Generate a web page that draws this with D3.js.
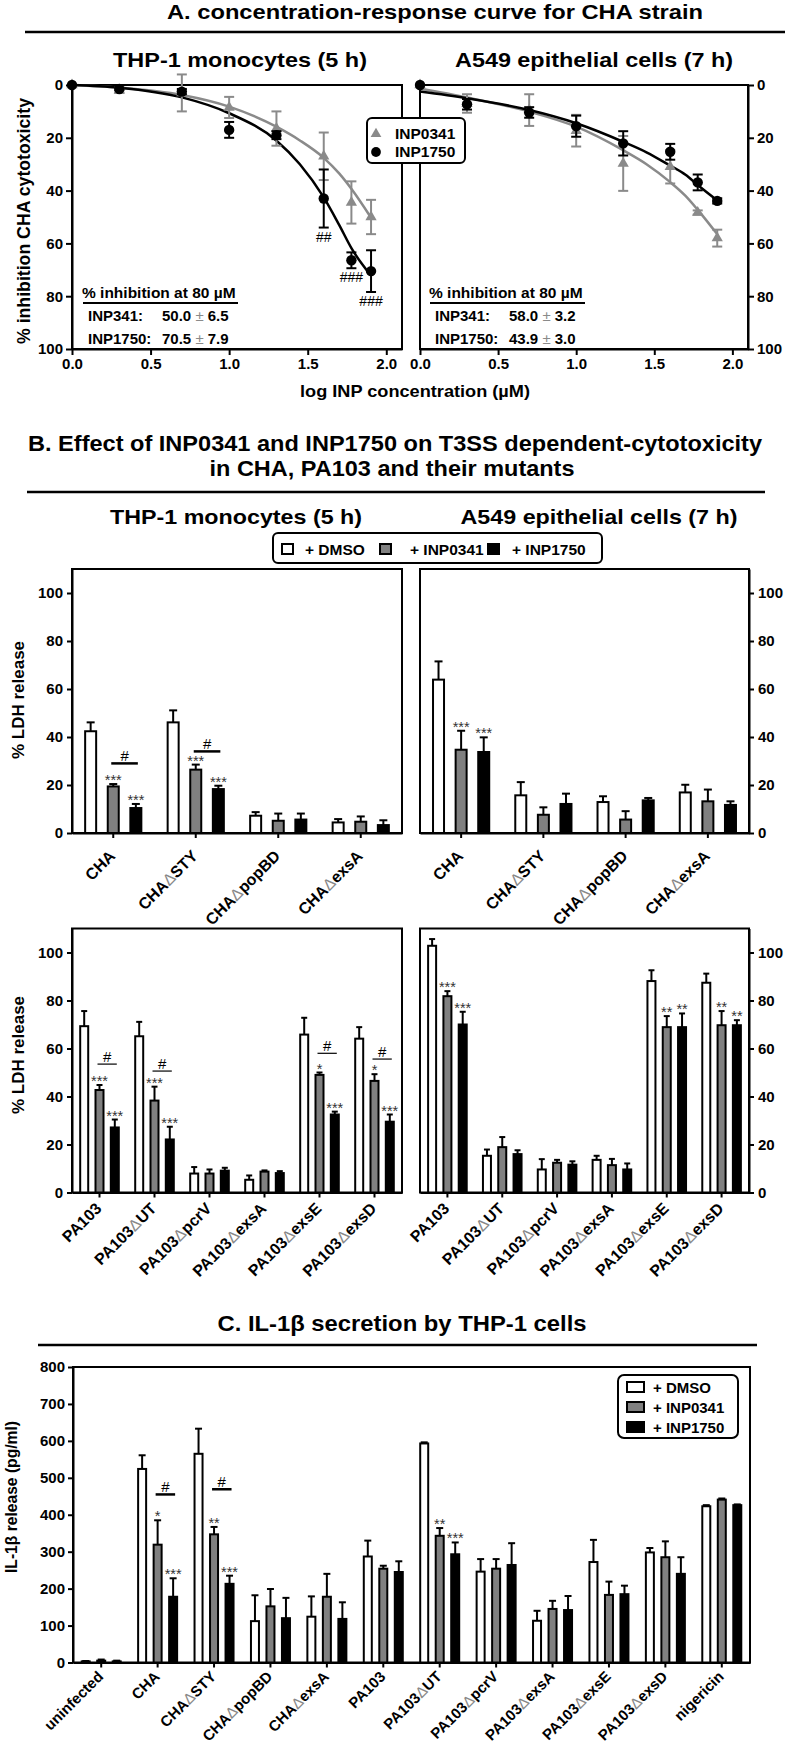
<!DOCTYPE html>
<html><head><meta charset="utf-8">
<script src="https://cdn.jsdelivr.net/npm/d3@7"></script>
<style>
body{margin:0;background:#fff;}
svg{display:block;font-family:"Liberation Sans",Arial,Helvetica,sans-serif;font-weight:bold;}
</style></head><body>
<svg id="chart" width="785" height="1750"></svg>
<script>
// ================= DATA =================
// Panel A : concentration-response
const logConc = [0, 0.301, 0.699, 1.0, 1.301, 1.602, 1.778, 1.903];
const thpInp0341 = [0, 2, 3, 8.5, 16.5, 27, 44.5, 50.0];
const thpInp0341Err = [0, 1, 7, 4, 6.5, 9, 8, 6.5];
const thpInp1750 = [0, 1.5, 2.5, 17, 19, 43, 66.4, 70.5];
const thpInp1750Err = [0, 0.5, 1, 3, 1.5, 11, 3, 7.9];
const thpInp1750Sig = ["", "", "", "", "", "##", "###", "###"];
const a549Inp0341 = [0, 7, 9.5, 17.3, 29.7, 31, 48.3, 58.0];
const a549Inp0341Err = [0, 3.5, 6, 6, 10.4, 6.3, 0.8, 3.2];
const a549Inp1750 = [0, 7.3, 10.4, 15.6, 22.1, 25.3, 36.9, 43.9];
const a549Inp1750Err = [0, 2, 2, 4, 4.6, 3, 3, 1.0];
// fitted curves
const fitX = [0, 0.3, 0.7, 1.0, 1.3, 1.45, 1.6, 1.7, 1.78, 1.9];
const thpFit0341 = [0, 1, 3.8, 8.2, 15.8, 21, 27.5, 33.5, 39.5, 50];
const thpFit1750 = [0, 1, 4.7, 10.7, 21, 30, 42.4, 53, 62, 72];
const a549Fit0341 = [1.3, 4.7, 10.1, 15.8, 24.7, 30, 36.7, 42, 47.4, 56.3];
const a549Fit1750 = [2.5, 5, 9.5, 14.5, 21.5, 25.5, 30.5, 34, 38, 43.6];
const aYTicks = [0, 20, 40, 60, 80, 100];
const aXTicks = [0, 0.5, 1, 1.5, 2];

// Panel B : LDH release
const seriesNames = ["+ DMSO", "+ INP0341", "+ INP1750"];
const chaCats = ["CHA", "CHAΔSTY", "CHAΔpopBD", "CHAΔexsA"];
const thpChaDmso = [42.4, 46.1, 7.2, 4.4];
const thpChaDmsoErr = [3.7, 5, 1.5, 1.4];
const thpCha0341 = [19.4, 26.4, 5.1, 4.7];
const thpCha0341Err = [1, 2.1, 3, 2.2];
const thpCha1750 = [10.4, 18.3, 5.6, 3.3];
const thpCha1750Err = [1.7, 1.4, 2.5, 2];
const thpChaStars0341 = ["***", "***", "", ""];
const thpChaStars1750 = ["***", "***", "", ""];
const thpChaHash = [29, 34, null, null];

const a549ChaDmso = [63.9, 15.7, 12.9, 16.9];
const a549ChaDmsoErr = [7.6, 5.5, 2.4, 3.2];
const a549Cha0341 = [34.7, 7.6, 5.6, 13.2];
const a549Cha0341Err = [7.9, 3.1, 3.5, 4.9];
const a549Cha1750 = [33.75, 12.1, 13.6, 11.7];
const a549Cha1750Err = [6.1, 4.3, 1, 1.5];
const a549ChaStars0341 = ["***", "", "", ""];
const a549ChaStars1750 = ["***", "", "", ""];
const a549ChaHash = [null, null, null, null];

const paCats = ["PA103", "PA103ΔUT", "PA103ΔpcrV", "PA103ΔexsA", "PA103ΔexsE", "PA103ΔexsD"];
const thpPaDmso = [69.3, 65.1, 7.9, 5.3, 65.8, 64.1];
const thpPaDmsoErr = [6.3, 6, 2.7, 1.8, 7, 4.8];
const thpPa0341 = [42.7, 38.3, 7.9, 8.7, 49, 46.5];
const thpPa0341Err = [2.1, 5.8, 1.7, 0.5, 1, 2.8];
const thpPa1750 = [27.1, 22.1, 9.1, 8.1, 32.5, 29.5];
const thpPa1750Err = [3.3, 5.3, 1.2, 0.8, 1.2, 3];
const thpPaStars0341 = ["***", "***", "", "", "*", "*"];
const thpPaStars1750 = ["***", "***", "", "", "***", "***"];
const thpPaHash = [53.5, 50.6, null, null, 58, 55.6];

const a549PaDmso = [102.8, 15.3, 9.6, 13.6, 88.1, 87.4];
const a549PaDmsoErr = [2.8, 2.6, 4.3, 1.7, 4.5, 3.8];
const a549Pa0341 = [81.8, 18.9, 12.4, 11.4, 68.9, 69.7];
const a549Pa0341Err = [2.1, 4.2, 1.2, 2.6, 4.6, 5.9];
const a549Pa1750 = [70, 16, 11.6, 9.6, 68.9, 69.7];
const a549Pa1750Err = [5.3, 1.6, 1.4, 2.5, 5.7, 2.1];
const a549PaStars0341 = ["***", "", "", "", "**", "**"];
const a549PaStars1750 = ["***", "", "", "", "**", "**"];
const a549PaHash = [null, null, null, null, null, null];
const bYTicks = [0, 20, 40, 60, 80, 100];

// Panel C : IL-1beta
const ilCats = ["uninfected", "CHA", "CHAΔSTY", "CHAΔpopBD", "CHAΔexsA", "PA103", "PA103ΔUT", "PA103ΔpcrV", "PA103ΔexsA", "PA103ΔexsE", "PA103ΔexsD", "nigericin"];
const ilDmso = [3, 524, 565, 112, 124, 287, 593, 246, 113, 272, 298, 423];
const ilDmsoErr = [1, 37, 68, 70, 55, 43, 3, 34, 27, 60, 12, 3];
const il0341 = [5, 319, 347, 152, 178, 254, 343, 254, 145, 183, 285, 441];
const il0341Err = [3, 66, 20, 47, 62, 8, 21, 26, 22, 36, 43, 3];
const il1750 = [3, 178, 213, 120, 118, 245, 293, 264, 142, 185, 240, 426];
const il1750Err = [2, 50, 22, 55, 45, 29, 32, 59, 38, 23, 45, 2];
const ilStars0341 = ["", "*", "**", "", "", "", "**", "", "", "", "", ""];
const ilStars1750 = ["", "***", "***", "", "", "", "***", "", "", "", "", ""];
const ilHash = [null, 455, 469, null, null, null, null, null, null, null, null, null];
const cYTicks = [0, 100, 200, 300, 400, 500, 600, 700, 800];

// ================= STYLE / LAYOUT =================
const GRAY = "#8a8a8a";
const seriesFill = ["#ffffff", "#808080", "#000000"];
const svg = d3.select("#chart");

function styleAxis(g, fs) {
  g.attr("font-family", null).attr("font-size", null);
  g.select(".domain").attr("stroke-width", 2);
  g.selectAll(".tick line").attr("stroke-width", 2);
  g.selectAll(".tick text").attr("font-size", fs).attr("font-weight", "bold").attr("fill", "#000");
}
function title(x, y, s, fs, len) {
  const t = svg.append("text").attr("x", x).attr("y", y).attr("text-anchor", "middle")
    .attr("font-size", fs).text(s);
  if (len) t.attr("textLength", len).attr("lengthAdjust", "spacingAndGlyphs");
  return t;
}
function rule(x1, x2, y) {
  svg.append("line").attr("x1", x1).attr("x2", x2).attr("y1", y).attr("y2", y)
    .attr("stroke", "#000").attr("stroke-width", 2.5);
}
function yLabel(x, y, s, fs, len) {
  const t = svg.append("text").attr("transform", `translate(${x},${y}) rotate(-90)`)
    .attr("text-anchor", "middle").attr("font-size", fs).text(s);
  if (len) t.attr("textLength", len).attr("lengthAdjust", "spacingAndGlyphs");
}

// ================= PANEL A =================
const A_TOP = 85, A_BOT = 349;
rule(25, 785, 32);
title(435, 19, "A. concentration-response curve for CHA strain", 21, 536);
title(240, 67, "THP-1 monocytes (5 h)", 21, 254);
title(594, 67, "A549 epithelial cells (7 h)", 21, 278);

function curvePanel(o) {
  const g = svg.append("g");
  const x = d3.scaleLinear().domain([0, 2.1]).range([o.x0, o.x1]);
  const y = d3.scaleLinear().domain([0, 100]).range([A_TOP, A_BOT]);
  g.append("rect").attr("x", o.x0).attr("y", A_TOP).attr("width", o.x1 - o.x0)
    .attr("height", A_BOT - A_TOP).attr("fill", "none").attr("stroke", "#000").attr("stroke-width", 2);
  g.append("g").attr("transform", `translate(0,${A_BOT})`)
    .call(d3.axisBottom(x).tickValues(aXTicks).tickFormat(d3.format(".1f")).tickSize(6).tickSizeOuter(0).tickPadding(3))
    .call(styleAxis, 15);
  const ya = (o.side === "left" ? d3.axisLeft(y) : d3.axisRight(y))
    .tickValues(aYTicks).tickSize(6).tickSizeOuter(0).tickPadding(3);
  g.append("g").attr("transform", `translate(${o.side === "left" ? o.x0 : o.x1},0)`).call(ya).call(styleAxis, 15);

  const line = d3.line().x((d, i) => x(fitX[i])).y(d => y(d)).curve(d3.curveMonotoneX);
  g.append("path").datum(o.fitGray).attr("d", line).attr("fill", "none").attr("stroke", GRAY).attr("stroke-width", 2.5);
  g.append("path").datum(o.fitBlack).attr("d", line).attr("fill", "none").attr("stroke", "#000").attr("stroke-width", 2.5);

  function pts(vals, errs, color, sym, size) {
    vals.forEach((v, i) => {
      const e = errs[i], px = x(logConc[i]);
      if (e > 0) {
        g.append("line").attr("x1", px).attr("x2", px).attr("y1", y(v - e)).attr("y2", y(v + e))
          .attr("stroke", color).attr("stroke-width", 2);
        [v - e, v + e].forEach(c => g.append("line").attr("x1", px - 5).attr("x2", px + 5)
          .attr("y1", y(c)).attr("y2", y(c)).attr("stroke", color).attr("stroke-width", 2));
      }
      g.append("path").attr("d", d3.symbol().type(sym).size(size)())
        .attr("transform", `translate(${px},${y(v)})`).attr("fill", color);
    });
  }
  pts(o.gray, o.grayErr, GRAY, d3.symbolTriangle, 55);
  pts(o.black, o.blackErr, "#000", d3.symbolCircle, 85);
  if (o.sig) o.sig.forEach((s, i) => {
    if (!s) return;
    g.append("text").attr("x", x(logConc[i])).attr("y", y(o.black[i] + o.blackErr[i]) + 14)
      .attr("text-anchor", "middle").attr("font-size", 14).attr("font-weight", "normal").text(s);
  });
  // inset
  const ix = o.x0 + o.insetDx;
  g.append("text").attr("x", ix).attr("y", 298).attr("font-size", 15.5).text("% inhibition at 80 µM");
  g.append("line").attr("x1", ix + 1).attr("x2", ix + 156).attr("y1", 303).attr("y2", 303)
    .attr("stroke", "#000").attr("stroke-width", 2);
  o.inset.forEach((r, k) => {
    const yy = 321 + k * 23;
    g.append("text").attr("x", ix + 6).attr("y", yy).attr("font-size", 15).text(r[0]);
    const t = g.append("text").attr("x", ix + 80).attr("y", yy).attr("font-size", 15);
    t.append("tspan").text(r[1] + " ");
    t.append("tspan").attr("fill", GRAY).attr("font-weight", "normal").text("±");
    t.append("tspan").text(" " + r[2]);
  });
}
curvePanel({ x0: 72, x1: 402, side: "left", fitGray: thpFit0341, fitBlack: thpFit1750,
  gray: thpInp0341, grayErr: thpInp0341Err, black: thpInp1750, blackErr: thpInp1750Err,
  sig: thpInp1750Sig, insetDx: 10,
  inset: [["INP341:", "50.0", "6.5"], ["INP1750:", "70.5", "7.9"]] });
curvePanel({ x0: 420, x1: 748, side: "right", fitGray: a549Fit0341, fitBlack: a549Fit1750,
  gray: a549Inp0341, grayErr: a549Inp0341Err, black: a549Inp1750, blackErr: a549Inp1750Err,
  sig: null, insetDx: 9,
  inset: [["INP341:", "58.0", "3.2"], ["INP1750:", "43.9", "3.0"]] });
yLabel(30, 221, "% inhibition CHA cytotoxicity", 17.5, 246);
title(415, 397, "log INP concentration (µM)", 17, 230);
// legend A
(function () {
  const g = svg.append("g");
  g.append("rect").attr("x", 367).attr("y", 118).attr("width", 98).attr("height", 45).attr("rx", 5)
    .attr("fill", "#fff").attr("stroke", "#000").attr("stroke-width", 2);
  g.append("path").attr("d", d3.symbol().type(d3.symbolTriangle).size(50)()).attr("transform", "translate(376,134)").attr("fill", GRAY);
  g.append("path").attr("d", d3.symbol().type(d3.symbolCircle).size(75)()).attr("transform", "translate(376,152)").attr("fill", "#000");
  g.append("text").attr("x", 395).attr("y", 139).attr("font-size", 15.5).text("INP0341");
  g.append("text").attr("x", 395).attr("y", 157).attr("font-size", 15.5).text("INP1750");
})();

// ================= PANEL B / C bar builder =================
function catLabel(g, x, y, label, fs) {
  const t = g.append("text").attr("transform", `translate(${x},${y}) rotate(-45)`)
    .attr("text-anchor", "end").attr("font-size", fs);
  const parts = label.split("Δ");
  t.append("tspan").text(parts[0]);
  if (parts.length > 1) {
    t.append("tspan").attr("fill", "#888").attr("font-weight", "normal").text("Δ");
    t.append("tspan").text(parts[1]);
  }
}
function barPanel(o) {
  const g = svg.append("g");
  const x = d3.scaleBand().domain(o.cats).range([o.x0, o.x1]).paddingInner(0).paddingOuter(0);
  const y = d3.scaleLinear().domain([0, o.ymax]).range([o.yBot, o.yTop]);
  const xi = d3.scaleBand().domain(seriesNames).range([-(o.step + o.w / 2), o.step + o.w / 2])
    .paddingInner(1 - o.w / o.step).paddingOuter(0);
  const cx = c => x(c) + x.bandwidth() / 2;
  g.append("rect").attr("x", o.x0).attr("y", o.yTop).attr("width", o.x1 - o.x0)
    .attr("height", o.yBot - o.yTop).attr("fill", "none").attr("stroke", "#000").attr("stroke-width", 2);
  const ya = (o.side === "left" ? d3.axisLeft(y) : d3.axisRight(y))
    .tickValues(o.yTicks).tickSize(o.tick).tickSizeOuter(0).tickPadding(o.pad);
  g.append("g").attr("transform", `translate(${o.side === "left" ? o.x0 : o.x1},0)`).call(ya).call(styleAxis, 15);
  g.append("g").attr("transform", `translate(0,${o.yBot})`)
    .call(d3.axisBottom(x).tickSize(5).tickSizeOuter(0).tickFormat("")).call(styleAxis, 15);

  const centers = [];
  o.series.forEach((s, si) => {
    const name = seriesNames[si];
    centers[si] = c => cx(c) + xi(name) + o.w / 2;
    o.cats.forEach((c, i) => {
      const v = s.v[i], e = s.e[i], bx = cx(c) + xi(name), mx = bx + o.w / 2;
      g.append("rect").attr("x", bx).attr("y", y(v)).attr("width", o.w).attr("height", o.yBot - y(v))
        .attr("fill", seriesFill[si]).attr("stroke", "#000").attr("stroke-width", 2);
      if (e > 0) {
        g.append("line").attr("x1", mx).attr("x2", mx).attr("y1", y(v)).attr("y2", y(v + e))
          .attr("stroke", "#000").attr("stroke-width", 2);
        g.append("line").attr("x1", mx - o.cap / 2).attr("x2", mx + o.cap / 2).attr("y1", y(v + e)).attr("y2", y(v + e))
          .attr("stroke", "#000").attr("stroke-width", 2);
      }
      if (s.stars && s.stars[i]) {
        g.append("text").attr("x", mx).attr("y", y(v + e) + 1).attr("text-anchor", "middle")
          .attr("font-size", 14.5).attr("font-weight", "normal").attr("fill", "#333").text(s.stars[i]);
      }
    });
  });
  if (o.hash) o.hash.forEach((h, i) => {
    if (h == null) return;
    const c = o.cats[i], a = centers[1](c) - 2, b = centers[2](c) + 2;
    g.append("line").attr("x1", a).attr("x2", b).attr("y1", y(h)).attr("y2", y(h))
      .attr("stroke", "#000").attr("stroke-width", o.hashW);
    g.append("text").attr("x", (a + b) / 2).attr("y", y(h) - 2.5).attr("text-anchor", "middle")
      .attr("font-size", 15).attr("font-weight", "normal").text("#");
  });
  o.cats.forEach(c => catLabel(g, cx(c) + 3, o.yBot + o.labB, c, o.lfs));
}
function ser(v, e, stars) { return { v: v, e: e, stars: stars }; }

// ================= PANEL B =================
title(395, 451, "B. Effect of INP0341 and INP1750 on T3SS dependent-cytotoxicity", 22, 734);
title(392, 476, "in CHA, PA103 and their mutants", 22, 365);
rule(27, 765, 492);
title(236, 524, "THP-1 monocytes (5 h)", 21, 252);
title(599, 524, "A549 epithelial cells (7 h)", 21, 277);
// legend B
(function () {
  const g = svg.append("g");
  g.append("rect").attr("x", 273).attr("y", 533).attr("width", 329).attr("height", 30).attr("rx", 5)
    .attr("fill", "#fff").attr("stroke", "#000").attr("stroke-width", 2);
  const sx = [282, 380, 488], tx = [305, 410, 512];
  seriesNames.forEach((n, i) => {
    g.append("rect").attr("x", sx[i]).attr("y", 544).attr("width", 11).attr("height", 10)
      .attr("fill", seriesFill[i]).attr("stroke", "#000").attr("stroke-width", 2);
    g.append("text").attr("x", tx[i]).attr("y", 555).attr("font-size", 15.5).text(n);
  });
})();

const upper = { ymax: 110, yBot: 833, yTop: 569, step: 22.6, w: 11, cap: 8, yTicks: bYTicks, tick: 5, pad: 4, labB: 24, lfs: 16, hashW: 2.5 };
const lower = { ymax: 110, yBot: 1192.5, yTop: 928.5, step: 15.3, w: 8, cap: 6, yTicks: bYTicks, tick: 5, pad: 4, labB: 17, lfs: 16, hashW: 1.2 };
barPanel(Object.assign({}, upper, { x0: 72, x1: 402, side: "left", cats: chaCats, hash: thpChaHash,
  series: [ser(thpChaDmso, thpChaDmsoErr), ser(thpCha0341, thpCha0341Err, thpChaStars0341), ser(thpCha1750, thpCha1750Err, thpChaStars1750)] }));
barPanel(Object.assign({}, upper, { x0: 420, x1: 749, side: "right", cats: chaCats, hash: a549ChaHash,
  series: [ser(a549ChaDmso, a549ChaDmsoErr), ser(a549Cha0341, a549Cha0341Err, a549ChaStars0341), ser(a549Cha1750, a549Cha1750Err, a549ChaStars1750)] }));
barPanel(Object.assign({}, lower, { x0: 72, x1: 402, side: "left", cats: paCats, hash: thpPaHash,
  series: [ser(thpPaDmso, thpPaDmsoErr), ser(thpPa0341, thpPa0341Err, thpPaStars0341), ser(thpPa1750, thpPa1750Err, thpPaStars1750)] }));
barPanel(Object.assign({}, lower, { x0: 420, x1: 749, side: "right", cats: paCats, hash: a549PaHash,
  series: [ser(a549PaDmso, a549PaDmsoErr), ser(a549Pa0341, a549Pa0341Err, a549PaStars0341), ser(a549Pa1750, a549Pa1750Err, a549PaStars1750)] }));
yLabel(24, 700, "% LDH release", 17);
yLabel(24, 1055, "% LDH release", 17);

// ================= PANEL C =================
title(402, 1331, "C. IL-1β secretion by THP-1 cells", 22, 369);
rule(38, 757, 1345);
barPanel({ ymax: 800, yBot: 1662.5, yTop: 1367, step: 15.5, w: 8, cap: 7, yTicks: cYTicks, tick: 5, pad: 3,
  labB: 15, lfs: 15, hashW: 2.5, x0: 73, x1: 750, side: "left", cats: ilCats, hash: ilHash,
  series: [ser(ilDmso, ilDmsoErr), ser(il0341, il0341Err, ilStars0341), ser(il1750, il1750Err, ilStars1750)] });
yLabel(17, 1497, "IL-1β release (pg/ml)", 16, 152);
// legend C
(function () {
  const g = svg.append("g");
  g.append("rect").attr("x", 618).attr("y", 1375).attr("width", 120).attr("height", 63).attr("rx", 6)
    .attr("fill", "#fff").attr("stroke", "#000").attr("stroke-width", 2);
  seriesNames.forEach((n, i) => {
    const cy = 1387 + i * 20;
    g.append("rect").attr("x", 627).attr("y", cy - 5).attr("width", 17).attr("height", 10)
      .attr("fill", seriesFill[i]).attr("stroke", "#000").attr("stroke-width", 2);
    g.append("text").attr("x", 653).attr("y", cy + 5.5).attr("font-size", 15).text(n);
  });
})();
</script>
</body></html>
